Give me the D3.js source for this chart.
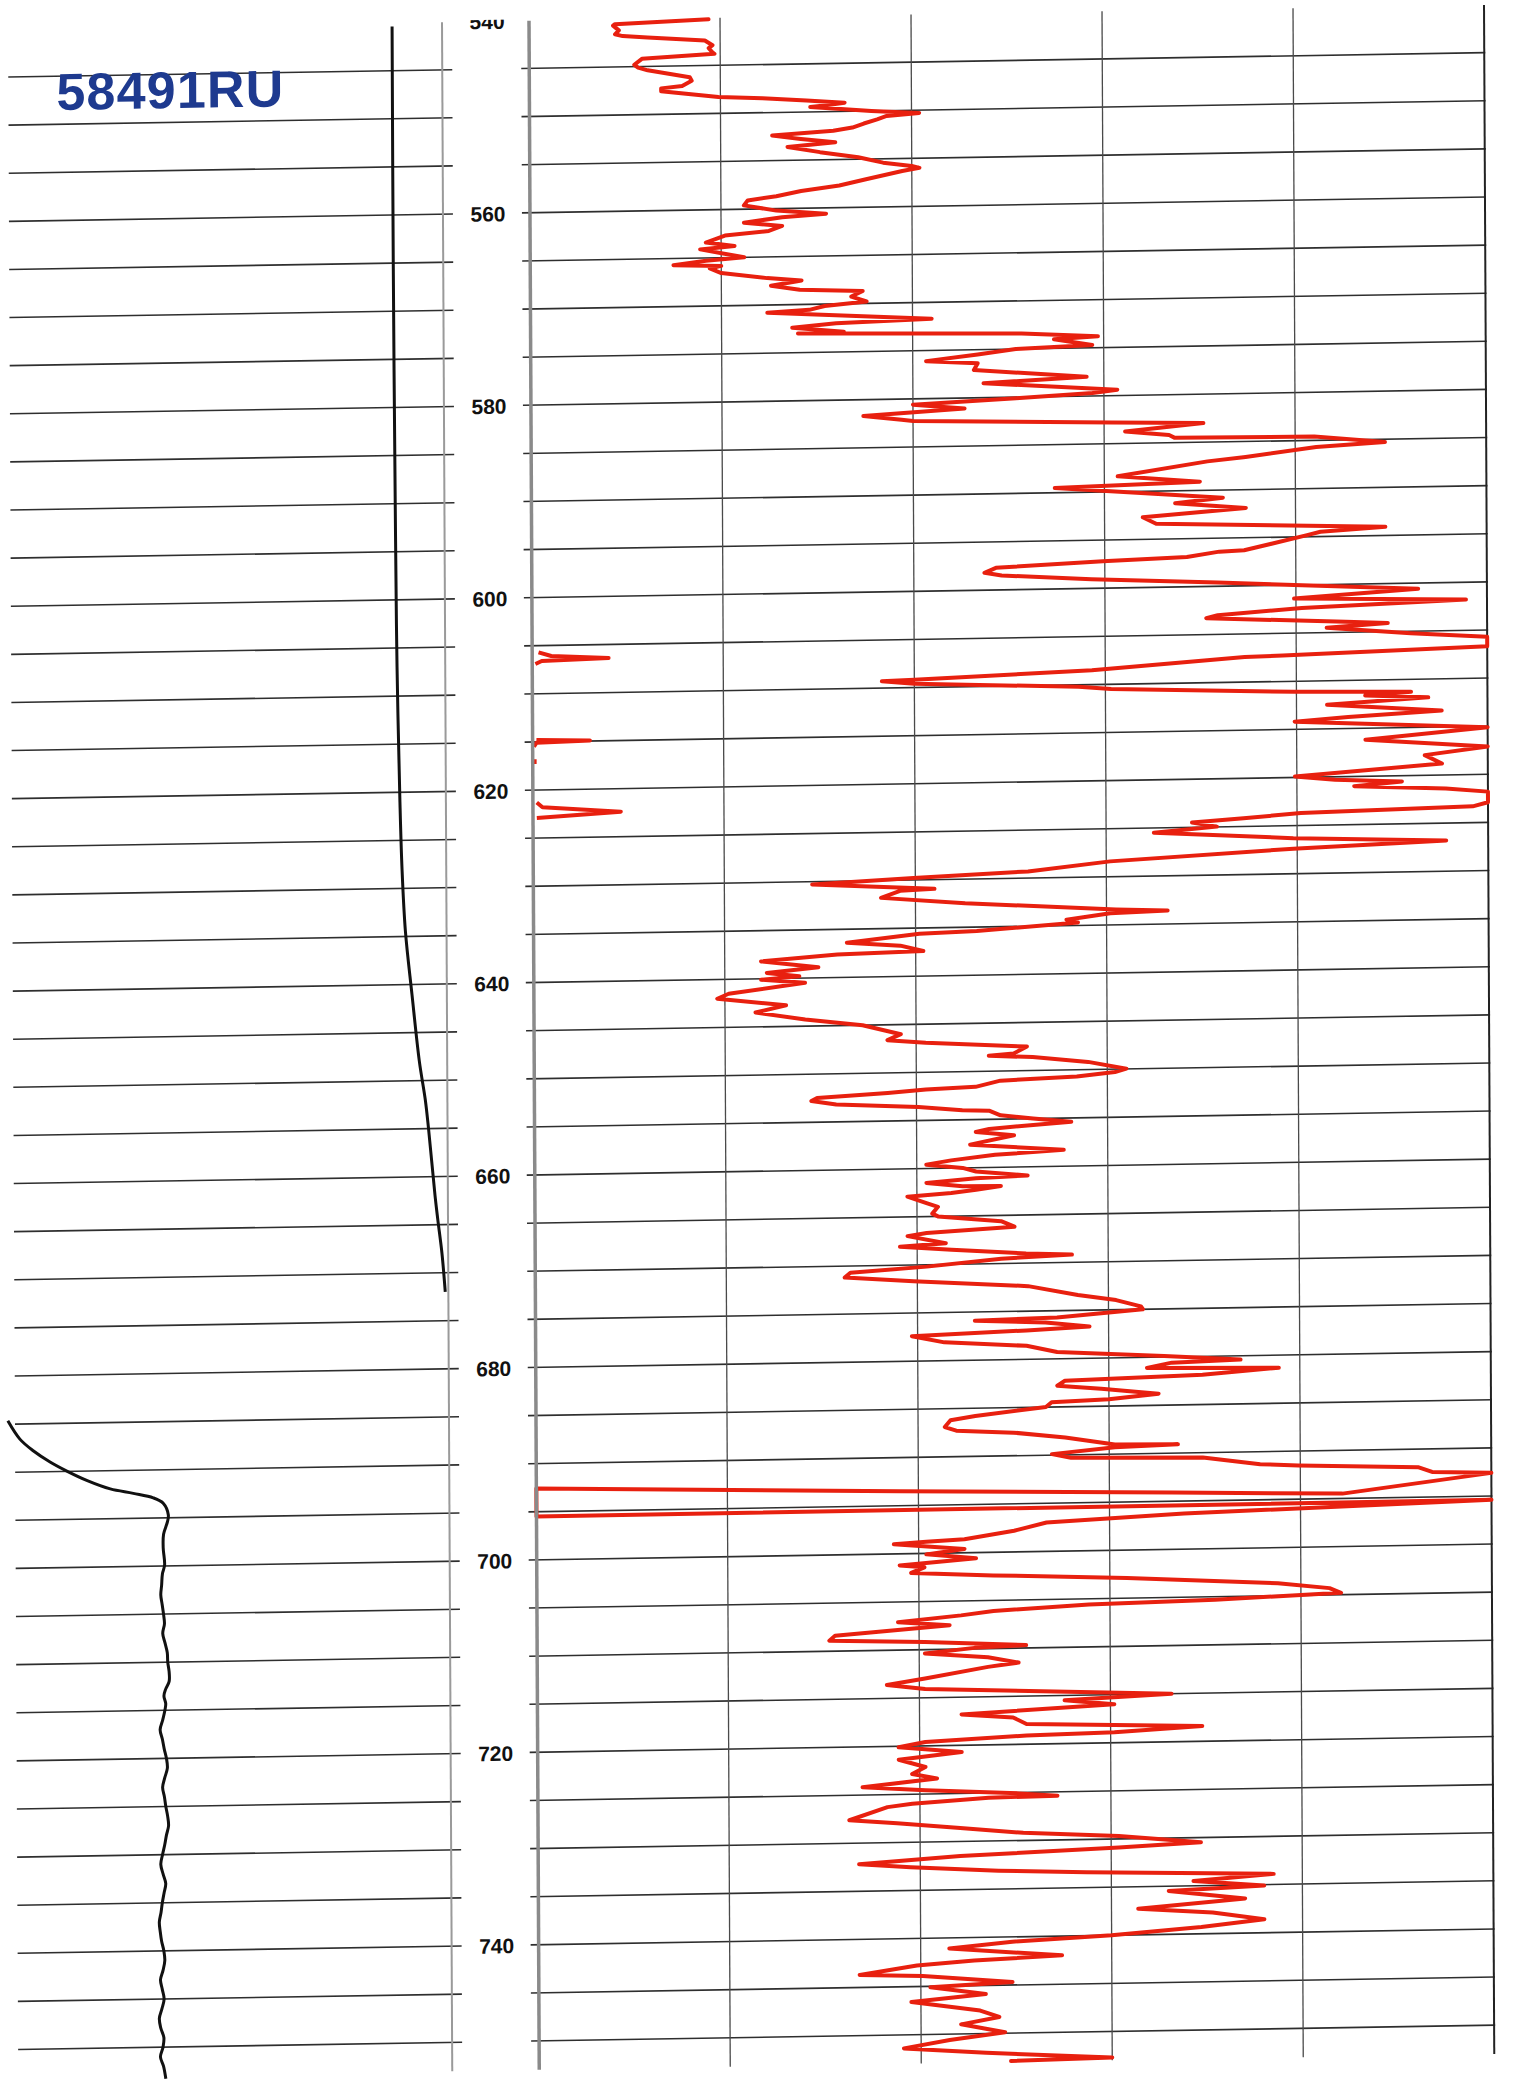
<!DOCTYPE html>
<html><head><meta charset="utf-8">
<script src="https://cdn.jsdelivr.net/npm/d3@7"></script>
<style>html,body{margin:0;padding:0;background:#fff;}svg{display:block;}</style>
</head><body>
<script>
// ---------------- DATA ----------------
const wellName = "58491RU";
const depthTicks = [540, 560, 580, 600, 620, 640, 660, 680, 700, 720, 740];
const gridDepths = [545,550,555,560,565,570,575,580,585,590,595,600,605,610,615,620,625,630,635,640,645,650,655,660,665,670,675,680,685,690,695,700,705,710,715,720,725,730,735,740,745,750];
const redDivisions = [0, 30, 60, 90, 120, 150];

// red log curve (depth m, value)
const redDepth = [540.2,540.55,540.7,541.2,541.6,541.8,542.0,542.4,542.9,543.2,543.66,543.8,544.2,544.8,545.1,545.4,546.2,546.57,547.1,547.3,547.6,548.3,548.5,548.8,549.1,549.4,549.5,550.0,550.3,550.55,550.9,551.3,551.7,552.0,552.4,552.8,553.2,553.6,554.2,554.8,555.4,555.8,556.0,556.3,557.1,557.7,558.2,558.7,559.1,559.6,560.2,560.6,560.9,561.4,561.8,562.3,562.7,563.4,563.8,564.1,565.0,565.3,565.7,565.85,566.1,566.6,567.2,567.5,568.0,568.47,568.7,569.26,569.8,570.2,570.57,570.8,571.7,572.0,572.4,572.9,573.0,573.4,573.8,574.05,574.7,575.0,575.5,576.1,576.4,577.1,578.0,578.5,579.4,579.7,580.1,580.6,581.1,581.7,582.15,582.3,582.8,583.0,583.76,584.2,584.5,584.6,585.3,585.7,586.6,587.0,588.4,589.1,589.5,590.8,591.3,591.9,592.7,593.4,594.1,594.5,594.84,596.3,596.4,596.9,597.2,597.7,598.2,598.5,599.05,599.6,600.0,600.6,601.4,601.8,602.4,603.0,603.3,603.9,604.1,604.5,605.2,605.7,606.7,607.3,607.4,608.5,609.2,609.3,609.6,610.2,610.5,611.1,611.3,611.6,611.9,612.5,613.3,613.8,614.2,615.1,616.2,617.1,617.9,618.8,619.9,620.3,620.6,621.0,621.4,621.8,622.9,623.3,623.7,624.15,624.5,624.97,625.5,626.3,626.8,627.4,628.4,629.3,629.8,630.3,630.56,630.95,631.1,631.8,632.5,633.4,633.6,633.8,634.4,634.7,635.4,635.6,636.4,636.8,637.4,637.6,638.2,638.9,639.4,639.8,640.1,640.5,641.5,642.0,642.8,643.5,644.3,645.0,646.0,646.6,646.93,647.5,648.2,648.4,648.6,649.2,649.97,650.3,650.7,651.0,651.6,651.8,652.1,652.5,652.8,653.2,653.6,654.0,654.1,654.6,655.0,655.4,655.7,656.0,656.3,656.7,657.6,658.3,658.7,659.2,659.6,660.0,660.4,660.9,661.1,661.5,661.9,661.95,662.3,662.6,662.9,663.6,664.0,664.7,665.0,665.6,666.2,666.7,667.0,667.8,668.1,668.5,669.0,669.2,669.5,670.2,670.7,671.2,671.7,672.4,673.4,674.0,674.7,675.0,675.7,675.9,676.2,676.7,677.0,677.4,678.1,678.6,679.3,679.9,680.4,680.6,681.1,681.3,681.9,682.3,682.8,683.2,683.8,684.3,684.5,685.0,685.8,686.2,686.9,687.3,687.6,688.2,689.0,689.1,689.3,689.9,690.3,690.5,691.3,691.5,691.9,692.4,692.6,694.5,694.1,693.5,692.6,695.5,695.4,696.3,697.0,697.8,698.6,698.8,699.0,699.6,700.1,700.6,701.2,701.44,702.0,702.4,702.9,703.7,704.3,704.8,705.3,705.6,706.1,706.5,707.1,707.5,708.4,708.9,709.2,709.7,709.9,710.4,710.9,711.5,711.9,713.0,713.6,714.1,715.0,715.5,716.0,716.8,717.2,717.9,718.4,718.9,719.1,719.6,720.1,720.7,721.4,722.2,722.9,723.4,724.2,724.6,725.1,725.4,725.5,726.0,726.3,727.6,728.0,728.6,729.2,729.7,730.5,730.9,731.5,732.2,732.6,733.1,733.4,733.9,734.5,735.1,735.5,736.4,737.3,737.8,738.6,739.3,740.0,740.5,741.1,742.0,742.4,742.8,743.7,743.9,744.7,745.1,745.9,746.6,747.6,748.3,749.0,749.9,750.6,751.4,752.0,752.7,752.9];
const redValue = [28.2,13.5,13.2,14.1,13.5,14.7,18.6,27.6,28.8,28.2,28.8,29.1,17.7,16.5,17.1,18.6,25.2,25.5,24.0,20.7,20.7,29.7,36.6,43.5,49.5,45.6,44.1,53.7,61.2,56.1,54.6,52.5,50.7,47.7,38.1,42.6,48.0,40.5,45.6,51.6,55.5,60.0,61.2,58.5,52.8,48.6,42.6,38.7,34.2,33.6,38.7,46.5,39.6,33.6,39.6,37.5,30.6,27.6,32.1,26.7,33.6,27.6,22.5,30.0,28.2,30.0,37.2,42.6,37.8,42.3,52.2,50.4,52.8,46.2,43.8,37.2,63.0,48.0,41.1,49.2,42.0,77.1,89.1,82.2,88.2,76.2,70.2,62.1,70.2,69.6,87.3,71.1,92.1,88.2,76.2,60.0,68.1,52.2,58.2,60.0,91.2,105.6,93.3,100.2,101.1,123.0,134.1,123.3,112.2,106.2,92.1,105.0,82.2,108.6,101.1,112.2,96.0,98.1,134.1,123.9,121.8,111.9,108.0,102.9,89.7,72.9,71.1,73.8,87.9,107.7,119.7,139.2,119.7,146.7,120.9,107.7,105.9,127.8,134.4,124.8,138.0,150,150,117.9,111.9,87.9,60.0,54.9,60.0,85.8,90.9,119.7,138.0,130.8,140.7,124.8,142.8,128.1,119.7,150,130.8,150,140.1,142.8,119.7,126.0,136.5,129.0,143.4,150,150,147.6,120.6,111.6,103.5,107.4,97.5,119.4,143.4,119.4,90.6,77.7,59.7,43.8,51.6,63.0,57.6,54.6,67.8,91.5,99.6,90.6,83.7,85.5,69.6,60.6,49.2,57.6,61.2,47.7,35.7,44.7,36.6,41.7,35.7,42.6,30.6,28.8,39.6,34.8,42.6,51.6,57.6,55.5,61.5,77.4,75.3,71.4,78.3,87.0,93.0,91.2,85.2,73.2,69.3,61.5,55.5,44.4,43.5,47.4,60.3,67.2,71.4,73.2,78.3,84.3,77.4,71.4,69.3,75.3,68.4,83.1,72.3,65.4,61.5,67.2,69.3,77.4,69.3,61.5,67.2,73.2,69.3,65.4,58.5,61.5,63.3,62.4,63.3,73.2,75.3,61.5,58.5,64.5,57.3,65.4,77.1,84.3,73.2,61.5,49.5,48.6,59.4,77.4,85.2,91.2,95.1,95.4,81.9,69.0,80.1,87.0,77.1,59.1,64.2,77.1,81.9,98.7,110.7,99.9,96.0,116.7,104.7,83.1,81.9,88.8,97.8,90.0,81.0,80.1,69.0,65.1,64.2,66.0,75.0,83.1,90.9,100.8,90.9,81.0,84.0,104.7,113.7,119.7,138.6,140.7,150,126.6,99.9,57.0,0,0,150,101.7,80.1,75.0,67.2,61.2,56.1,67.2,61.2,69.0,57.0,60.9,58.8,71.7,92.7,116.4,124.5,126.3,106.5,86.7,71.7,66.6,56.7,64.8,46.8,45.9,60.9,76.8,68.7,60.9,70.8,75.6,70.8,60.9,54.9,60.9,99.6,82.8,90.6,66.6,74.7,76.8,104.4,90.6,76.8,60.9,56.7,66.6,56.7,60.9,58.8,62.7,51.0,60.9,75.6,81.6,70.8,58.8,54.9,48.9,56.4,66.3,76.2,91.2,104.1,91.2,66.3,50.4,58.5,72.3,86.1,115.5,102.9,114.0,99.0,111.0,94.2,105.9,114.0,104.1,90.0,74.4,64.5,82.2,68.4,59.4,50.4,60.3,74.4,61.5,70.2,58.5,69.3,72.3,66.3,73.2,64.5,57.3,70.2,90.0,74.1];

// wrapped (backup) excursions at the left edge of the red track
const wrapDepth = [[605.7,606.1,606.4,606.6,606.9],[614.8,614.95,615.1,615.5],[616.8,617.3],[621.3,621.8,622.4,622.9]];
const wrapValue = [[1.0,3.0,12.0,1.5,0.5],[0.6,9.0,0.6,0.2],[0.3,0.3],[0.6,1.5,13.8,0.6]];

// black curve, left track (upper and lower segments)
const upperDepth = [540.4,565,593,607,621,628,634.5,641,648,652,655,662,664.5,668,672];
const upperValue = [88.7,88.7,88.9,89.1,89.6,90.0,90.7,92.1,93.7,95.0,95.7,97.1,97.7,98.6,99.3];
const lowerDepth = [684.65,686.57,687.8,689.0,690.0,691.0,691.9,692.4,692.9,693.5,694.7,695.4,696.7,698.1,699.9,700.8,702,703,704,705,706,707,708,709,710,711,712,712.8,713.5,714.3,715,716,717,718,719,720,721,722,723,724,725,726,727,728,729,730,731,732,733,734,735,736,737,738,739,740,741,742,743,744,745,746,747,748,749,750,751,752,753.3];
const lowerValue = [0.2,2.9,5.9,9.7,13.6,18.1,23.3,28.5,33.0,35.3,36.4,36.2,35.3,35.2,35.5,35.0,34.8,34.6,34.9,35.2,35.4,35.0,35.5,36.0,36.1,36.4,36.4,35.6,35.2,35.6,35.4,34.9,34.3,34.8,35.2,35.7,35.9,35.3,34.8,35.2,35.5,35.9,36.1,35.6,35.2,34.7,34.3,34.8,35.4,35.0,34.6,34.3,33.9,34.1,34.4,34.9,35.1,34.7,34.1,34.5,34.9,34.4,33.8,34.1,34.8,34.6,34.0,34.7,35.2];

// ---------------- CHART ----------------
const W = 1518, H = 2080;
const svg = d3.select("body").append("svg").attr("width", W).attr("height", H);
svg.append("rect").attr("width", W).attr("height", H).attr("fill", "#fff");

const y = d3.scaleLinear().domain([540, 753]).range([21, 21 + 213 * 9.622]);
const xRed = d3.scaleLinear().domain([0, 150]).range([529, 1484]);
const xLeft = d3.scaleLinear().domain([0, 100]).range([0, 442]);

// slight skew of the scanned sheet
const skB = -0.0165, skC = 0.005;
const g = svg.append("g").attr("transform", `matrix(1,${skB},${skC},1,${-skC * 20},${-skB * 487})`);

// horizontal grid lines
const hl = g.append("g").attr("stroke", "#2e2e2e").attr("stroke-width", 1.6);
hl.selectAll("line.l").data(gridDepths).join("line").attr("class", "l")
  .attr("x1", 8).attr("x2", 452).attr("y1", d => y(d)).attr("y2", d => y(d));
hl.selectAll("line.r").data(gridDepths).join("line").attr("class", "r")
  .attr("x1", 521).attr("x2", 1485).attr("y1", d => y(d)).attr("y2", d => y(d));

const yTop = y(540.05), yBot = y(753);
// left track border
g.append("line").attr("x1", xLeft(100)).attr("x2", xLeft(100)).attr("y1", yTop).attr("y2", yBot)
  .attr("stroke", "#9a9a9a").attr("stroke-width", 2);

// depth labels via axis
const defs = svg.append("defs");
defs.append("clipPath").attr("id", "depthClip").append("rect")
  .attr("x", -60).attr("y", 20).attr("width", 120).attr("height", 2060);
const ax = g.append("g").attr("transform", "translate(487,0)")
  .call(d3.axisLeft(y).tickValues(depthTicks).tickSize(0).tickPadding(0).tickFormat(d3.format("d")));
ax.attr("clip-path", "url(#depthClip)");
ax.select(".domain").remove();
ax.selectAll("text").attr("text-anchor", "middle").attr("x", 0).attr("dy", "0.36em")
  .attr("font-family", "'Liberation Sans', Arial, sans-serif").attr("font-weight", "bold")
  .attr("font-size", 21).attr("fill", "#111");

// red grid verticals (interior + right border)
g.selectAll("line.v").data(redDivisions.slice(1)).join("line").attr("class", "v")
  .attr("x1", d => xRed(d)).attr("x2", d => xRed(d)).attr("y1", yTop).attr("y2", yBot)
  .attr("stroke", (d, i) => i === 4 ? "#222" : "#4a4a4a")
  .attr("stroke-width", (d, i) => i === 4 ? 2 : 1.3);

// red curve
const idx = d3.range(redDepth.length);
const redLine = d3.line().x(i => xRed(redValue[i])).y(i => y(redDepth[i]));
g.append("path").attr("d", redLine(idx)).attr("fill", "none").attr("stroke", "#e8200f")
  .attr("stroke-width", 4).attr("stroke-linejoin", "round").attr("stroke-linecap", "round");
wrapDepth.forEach((ds, k) => {
  const line = d3.line().x(i => xRed(wrapValue[k][i])).y(i => y(ds[i]));
  g.append("path").attr("d", line(d3.range(ds.length))).attr("fill", "none").attr("stroke", "#e8200f")
    .attr("stroke-width", 4).attr("stroke-linejoin", "round");
});

// red track left border drawn on top
g.append("line").attr("x1", xRed(0)).attr("x2", xRed(0)).attr("y1", yTop).attr("y2", yBot)
  .attr("stroke", "#8a8a8a").attr("stroke-width", 3.5);

// black curves
const upLine = d3.line().x(i => xLeft(upperValue[i])).y(i => y(upperDepth[i])).curve(d3.curveCatmullRom);
g.append("path").attr("d", upLine(d3.range(upperDepth.length))).attr("fill", "none")
  .attr("stroke", "#111").attr("stroke-width", 3);
const loLine = d3.line().x(i => xLeft(lowerValue[i])).y(i => y(lowerDepth[i])).curve(d3.curveCatmullRom);
g.append("path").attr("d", loLine(d3.range(lowerDepth.length))).attr("fill", "none")
  .attr("stroke", "#111").attr("stroke-width", 3);

// well name
g.append("text").attr("x", 56).attr("y", 103).text(wellName)
  .attr("font-family", "'Liberation Sans', Arial, sans-serif").attr("font-weight", "bold")
  .attr("font-size", 52).attr("letter-spacing", 1.2).attr("fill", "#1e3a8f");
</script>
</body></html>
